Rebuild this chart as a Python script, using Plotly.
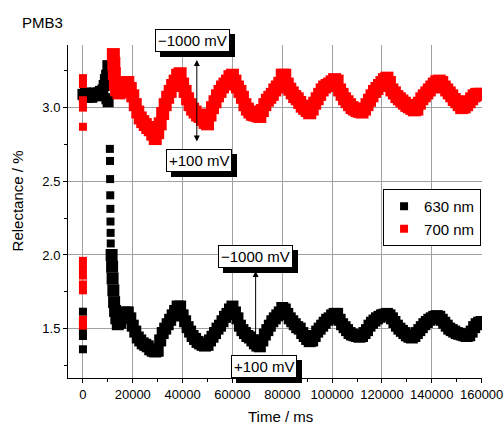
import plotly.graph_objects as go

# ---------------- data ----------------
# 630 nm: isolated points at t = 0
b0_t = [0, 0, 0, 0, 0]
b0_y = [1.615, 1.54, 1.48, 1.45, 1.36]

# 630 nm: early cluster (t = 0 ... 10 s)
be_t = [0, 500, 1000, 1500, 2000, 2500, 3000, 3500, 4000, 4500, 5000, 5500, 6000,
        6500, 7000, 7500, 8000, 8500, 9000, 9500, 9600, 10000, 10100]
be_y = [3.09, 3.08, 3.10, 3.08, 3.07, 3.08, 3.09, 3.07, 3.08, 3.09, 3.10, 3.08, 3.09,
        3.10, 3.11, 3.10, 3.12, 3.15, 3.19, 3.22, 3.06, 3.285, 3.04]

# 630 nm: fast drop (isolated points)
bd_t = [10800, 10850, 10900, 10950, 11000, 11050, 11100, 11150]
bd_y = [2.72, 2.638, 2.515, 2.405, 2.313, 2.227, 2.15, 2.078]

# 630 nm: continuous band
bb_t = [11500, 11700, 11900, 12200, 12500, 12900, 13400, 14000, 15000, 16000, 17000, 18000,
        19000, 20000, 21000, 22000, 23000, 24000, 25000, 26000, 27000, 28000, 29000, 30000,
        31000, 32000, 33000, 34000, 35000, 36000, 37000, 38000, 39000, 40000, 41000, 42000,
        43000, 44000, 45000, 46000, 47000, 48000, 49000, 50000, 51000, 52000, 53000, 54000,
        55000, 56000, 57000, 58000, 59000, 60000, 61000, 62000, 63000, 64000, 65000, 66000,
        67000, 68000, 69000, 70000, 71000, 72000, 73000, 74000, 75000, 76000, 77000, 78000,
        79000, 80000, 81000, 82000, 83000, 84000, 85000, 86000, 87000, 88000, 89000, 90000,
        91000, 92000, 93000, 94000, 95000, 96000, 97000, 98000, 99000, 100000, 101000, 102000,
        103000, 104000, 105000, 106000, 107000, 108000, 109000, 110000, 111000, 112000, 113000,
        114000, 115000, 116000, 117000, 118000, 119000, 120000, 121000, 122000, 123000, 124000,
        125000, 126000, 127000, 128000, 129000, 130000, 131000, 132000, 133000, 134000, 135000,
        136000, 137000, 138000, 139000, 140000, 141000, 142000, 143000, 144000, 145000, 146000,
        147000, 148000, 149000, 150000, 151000, 152000, 153000, 154000, 155000, 156000, 157000,
        158000, 159000, 160000]
bb_y = [2.00, 1.92, 1.84, 1.76, 1.68, 1.62, 1.57, 1.53, 1.54, 1.58, 1.61, 1.61,
        1.57, 1.52, 1.48, 1.44, 1.42, 1.40, 1.39, 1.38, 1.36, 1.35, 1.345, 1.35,
        1.42, 1.47, 1.50, 1.53, 1.56, 1.59, 1.62, 1.65, 1.65, 1.59, 1.55, 1.51,
        1.48, 1.45, 1.43, 1.41, 1.40, 1.39, 1.385, 1.39, 1.42, 1.445, 1.47, 1.50,
        1.52, 1.55, 1.58, 1.60, 1.63, 1.65, 1.61, 1.57, 1.52, 1.49, 1.47, 1.45,
        1.44, 1.42, 1.40, 1.385, 1.38, 1.42, 1.46, 1.49, 1.52, 1.55, 1.57, 1.59,
        1.61, 1.64, 1.63, 1.60, 1.57, 1.55, 1.53, 1.51, 1.50, 1.47, 1.45, 1.43,
        1.415, 1.42, 1.45, 1.48, 1.50, 1.52, 1.54, 1.56, 1.57, 1.59, 1.60, 1.60,
        1.56, 1.53, 1.51, 1.49, 1.47, 1.46, 1.455, 1.45, 1.445, 1.45, 1.47,
        1.49, 1.52, 1.54, 1.555, 1.57, 1.58, 1.59, 1.595, 1.60, 1.59, 1.57,
        1.545, 1.52, 1.50, 1.485, 1.47, 1.455, 1.445, 1.44, 1.45, 1.47, 1.49,
        1.51, 1.53, 1.545, 1.56, 1.57, 1.58, 1.585, 1.58, 1.56, 1.54, 1.52,
        1.50, 1.49, 1.48, 1.47, 1.465, 1.46, 1.455, 1.45, 1.455, 1.48, 1.51,
        1.53, 1.54, 1.545]

# 700 nm: isolated points at t = 0
r0_t = [0, 0, 0, 0, 0, 0, 0, 0, 0, 0, 0, 0]
r0_y = [3.20, 3.16, 3.05, 3.00, 2.87, 1.96, 1.91, 1.86, 1.80, 1.76, 1.56, 1.52]

# 700 nm: continuous band
rb_t = [12200, 12400, 12600, 13000, 13500, 14500, 15500, 16300, 17000, 18000,
        19000, 20000, 21000, 22000, 23000, 24000, 25000, 26000, 27000, 28000, 29000, 30000,
        31000, 32000, 33000, 34000, 35000, 36000, 37000, 38000, 39000, 40000, 41000, 42000,
        43000, 44000, 45000, 46000, 47000, 48000, 49000, 50000, 51000, 52000, 53000, 54000,
        55000, 56000, 57000, 58000, 59000, 60000, 61000, 62000, 63000, 64000, 65000, 66000,
        67000, 68000, 69000, 70000, 71000, 72000, 73000, 74000, 75000, 76000, 77000, 78000,
        79000, 80000, 81000, 82000, 83000, 84000, 85000, 86000, 87000, 88000, 89000, 90000,
        91000, 92000, 93000, 94000, 95000, 96000, 97000, 98000, 99000, 100000, 101000, 102000,
        103000, 104000, 105000, 106000, 107000, 108000, 109000, 110000, 111000, 112000, 113000,
        114000, 115000, 116000, 117000, 118000, 119000, 120000, 121000, 122000, 123000, 124000,
        125000, 126000, 127000, 128000, 129000, 130000, 131000, 132000, 133000, 134000, 135000,
        136000, 137000, 138000, 139000, 140000, 141000, 142000, 143000, 144000, 145000, 146000,
        147000, 148000, 149000, 150000, 151000, 152000, 153000, 154000, 155000, 156000, 157000,
        158000, 159000, 160000]
rb_y = [3.36, 3.30, 3.23, 3.16, 3.12, 3.10, 3.11, 3.14, 3.17, 3.17,
        3.13, 3.08, 3.02, 2.97, 2.93, 2.905, 2.885, 2.865, 2.85, 2.82, 2.79, 2.83,
        2.89, 2.96, 3.02, 3.07, 3.11, 3.15, 3.18, 3.22, 3.23, 3.16, 3.11, 3.06,
        3.02, 2.99, 2.97, 2.95, 2.94, 2.92, 2.90, 2.89, 2.95, 3.00, 3.04, 3.08,
        3.11, 3.14, 3.16, 3.18, 3.21, 3.22, 3.18, 3.14, 3.11, 3.07, 3.02, 2.99,
        2.97, 2.955, 2.95, 2.945, 2.94, 2.98, 3.02, 3.05, 3.07, 3.09, 3.12, 3.14,
        3.165, 3.22, 3.22, 3.16, 3.125, 3.10, 3.075, 3.06, 3.035, 3.01, 2.995, 2.98,
        2.965, 2.99, 3.03, 3.06, 3.09, 3.12, 3.14, 3.15, 3.16, 3.175, 3.19, 3.18,
        3.12, 3.09, 3.06, 3.04, 3.02, 3.00, 2.99, 2.98, 2.975, 2.97, 2.99,
        3.02, 3.05, 3.08, 3.11, 3.13, 3.15, 3.17, 3.19, 3.20, 3.17, 3.12,
        3.10, 3.075, 3.06, 3.045, 3.03, 3.015, 3.005, 2.995, 2.985, 2.99, 3.03,
        3.06, 3.08, 3.10, 3.12, 3.14, 3.16, 3.175, 3.18, 3.17, 3.14, 3.12,
        3.10, 3.08, 3.055, 3.04, 3.02, 3.00, 3.005, 3.02, 3.04, 3.06, 3.08,
        3.09, 3.09, 3.09]

series_names = ["630 nm", "700 nm"]
x_ticks = [0, 20000, 40000, 60000, 80000, 100000, 120000, 140000, 160000]
y_ticks = [1.5, 2.0, 2.5, 3.0]

# annotation anchors: x in data; y in data except the first one, which sits above the frame
ann_labels = ["\u22121000 mV", "+100 mV", "\u22121000 mV", "+100 mV"]
ann_x = [43900, 46500, 69100, 72700]
ann_y = [1.0135, 2.642, 1.987, 1.244]
ann_yref = ["paper", "y", "y", "y"]
arrow1 = dict(x=45700, y_top=3.324, y_bot=2.76)
arrow2 = dict(x=69300, y_top=1.892, y_bot=1.345)

# ---------------- figure ----------------
FONT = "Liberation Sans, Arial, sans-serif"
BLACK = "#000000"
RED = "#ff0000"

fig = go.Figure()

fig.add_trace(go.Scatter(x=be_t, y=be_y, mode="markers", name=series_names[0],
                         legendgroup="b", showlegend=False,
                         marker=dict(symbol="square", size=11, color=BLACK)))
fig.add_trace(go.Scatter(x=bd_t, y=bd_y, mode="markers", name=series_names[0],
                         legendgroup="b", showlegend=False,
                         marker=dict(symbol="square", size=8, color=BLACK)))
fig.add_trace(go.Scatter(x=bb_t, y=bb_y, mode="markers", name=series_names[0],
                         legendgroup="b", showlegend=False,
                         marker=dict(symbol="square", size=12, color=BLACK)))
fig.add_trace(go.Scatter(x=b0_t, y=b0_y, mode="markers", name=series_names[0],
                         legendgroup="b", showlegend=True,
                         marker=dict(symbol="square", size=8, color=BLACK)))
fig.add_trace(go.Scatter(x=rb_t, y=rb_y, mode="markers", name=series_names[1],
                         legendgroup="r", showlegend=False,
                         marker=dict(symbol="square", size=13, color=RED)))
fig.add_trace(go.Scatter(x=r0_t, y=r0_y, mode="markers", name=series_names[1],
                         legendgroup="r", showlegend=True,
                         marker=dict(symbol="square", size=8, color=RED)))

annotations = []
# shadowed text boxes
for lab, ax_, ay_, yr in zip(ann_labels, ann_x, ann_y, ann_yref):
    annotations.append(dict(x=ax_, y=ay_, xref="x", yref=yr, text=lab, showarrow=False,
                            xanchor="center", yanchor="middle",
                            font=dict(family=FONT, size=15, color=BLACK),
                            bgcolor=BLACK, bordercolor=BLACK, borderwidth=1, borderpad=2,
                            xshift=5, yshift=-5))
    annotations.append(dict(x=ax_, y=ay_, xref="x", yref=yr, text=lab, showarrow=False,
                            xanchor="center", yanchor="middle",
                            font=dict(family=FONT, size=15, color=BLACK),
                            bgcolor="white", bordercolor=BLACK, borderwidth=1, borderpad=2))
# arrows
annotations.append(dict(x=arrow1["x"], y=arrow1["y_top"], ax=arrow1["x"], ay=arrow1["y_bot"],
                        xref="x", yref="y", axref="x", ayref="y", text="", showarrow=True,
                        arrowhead=2, startarrowhead=2, arrowside="end+start",
                        arrowsize=1.2, startarrowsize=1.2, arrowwidth=1, arrowcolor=BLACK))
annotations.append(dict(x=arrow2["x"], y=arrow2["y_top"], ax=arrow2["x"], ay=arrow2["y_bot"],
                        xref="x", yref="y", axref="x", ayref="y", text="", showarrow=True,
                        arrowhead=2, arrowsize=1.2, arrowwidth=1, arrowcolor=BLACK))
# title and axis titles
annotations.append(dict(x=-0.116, y=1.069, xref="paper", yref="paper", text="PMB3",
                        showarrow=False, xanchor="left", yanchor="middle",
                        font=dict(family=FONT, size=15, color=BLACK)))
annotations.append(dict(x=-0.121, y=0.533, xref="paper", yref="paper", text="Relectance / %",
                        showarrow=False, xanchor="center", yanchor="middle", textangle=-90,
                        font=dict(family=FONT, size=15, color=BLACK)))
annotations.append(dict(x=0.514, y=-0.117, xref="paper", yref="paper", text="Time / ms",
                        showarrow=False, xanchor="center", yanchor="middle",
                        font=dict(family=FONT, size=15, color=BLACK)))

fig.update_layout(
    width=504, height=425,
    margin=dict(l=68, r=22, t=45, b=47),
    paper_bgcolor="white", plot_bgcolor="white",
    font=dict(family=FONT, size=13, color=BLACK),
    annotations=annotations,
    legend=dict(x=0.761, y=0.5676, xanchor="left", yanchor="top",
                bgcolor="white", bordercolor=BLACK, borderwidth=1, tracegroupgap=0,
                font=dict(family=FONT, size=15, color=BLACK)),
    xaxis=dict(range=[-6000, 160150], tickmode="array", tickvals=x_ticks,
               ticktext=[str(v) for v in x_ticks], automargin=False,
               showgrid=True, gridcolor="#a0a0a0", gridwidth=1, zeroline=False,
               showline=True, linecolor=BLACK, linewidth=1, mirror=False,
               ticks="outside", ticklen=4, tickcolor=BLACK,
               minor=dict(dtick=10000, tick0=0, ticks="outside", ticklen=3,
                          tickcolor=BLACK, showgrid=False),
               tickfont=dict(family=FONT, size=13, color=BLACK)),
    yaxis=dict(range=[1.165, 3.425], tickmode="array", tickvals=y_ticks,
               ticktext=["1.5", "2.0", "2.5", "3.0"], automargin=False,
               showgrid=True, gridcolor="#a0a0a0", gridwidth=1, zeroline=False,
               showline=True, linecolor=BLACK, linewidth=1, mirror=False,
               ticks="outside", ticklen=4, tickcolor=BLACK,
               minor=dict(dtick=0.25, tick0=0, ticks="outside", ticklen=3,
                          tickcolor=BLACK, showgrid=False),
               tickfont=dict(family=FONT, size=13, color=BLACK)),
    showlegend=True,
)

fig.write_html("out.html", config={"displayModeBar": False},
               post_script="document.body.style.margin='0px';")
